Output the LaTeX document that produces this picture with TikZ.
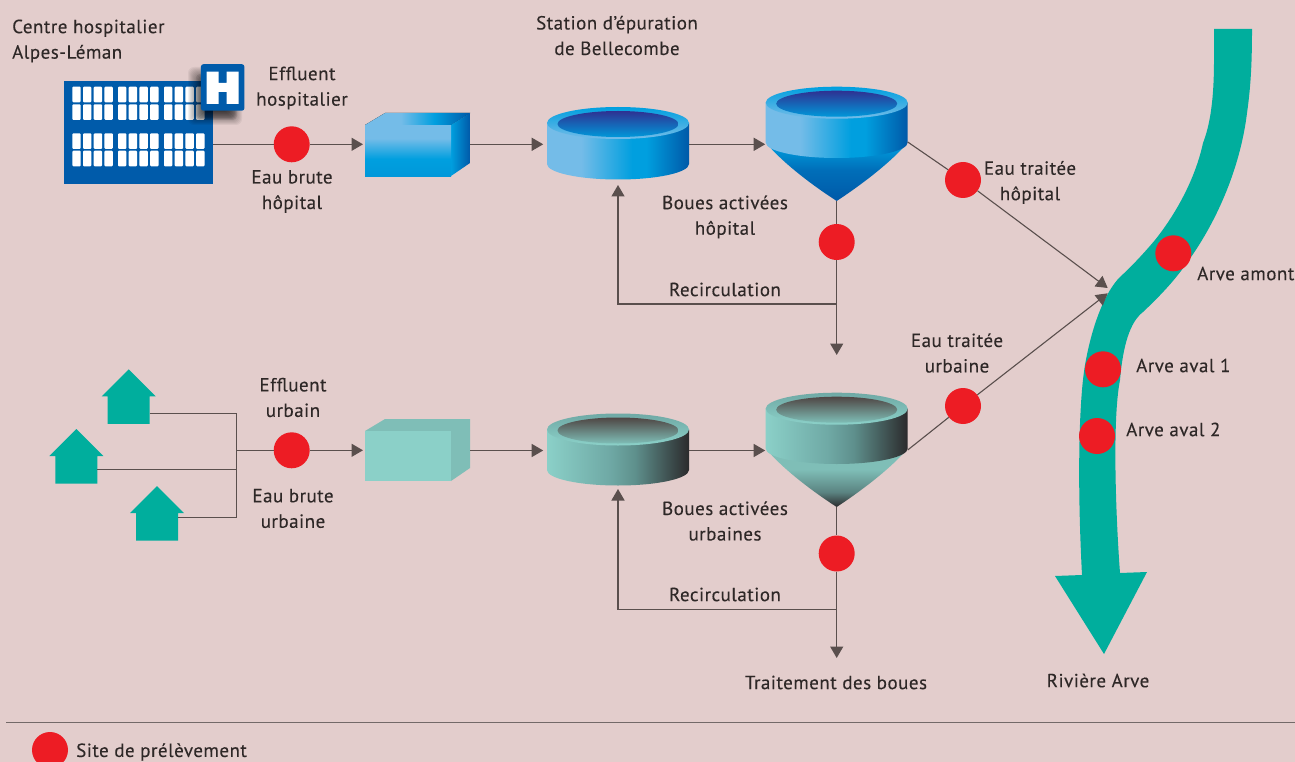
\documentclass[tikz,border=0pt]{standalone}
\usepackage{fontspec}
\setmainfont[LetterSpace=2.6,FakeBold=0.12]{PT Sans}
\usetikzlibrary{arrows.meta,calc}
\definecolor{bgc}{HTML}{E3CDCC}
\definecolor{riv}{HTML}{00AE9D}
\definecolor{redc}{HTML}{ED1C24}
\definecolor{linec}{HTML}{5A4F4D}
\definecolor{txtc}{HTML}{2E2827}
\definecolor{hblue}{HTML}{005BAA}
\definecolor{lb}{HTML}{74BCE8}
\definecolor{mb}{HTML}{009FDF}
\definecolor{db}{HTML}{0059A8}
\definecolor{ib}{HTML}{2E3192}
\definecolor{lt}{HTML}{8BD0C8}
\definecolor{mt}{HTML}{6FA9A5}
\definecolor{dt}{HTML}{2B2A2C}
\definecolor{st}{HTML}{7FBEB7}
\definecolor{it}{HTML}{4F4644}
% horizontal bodies
\pgfdeclarehorizontalshading{bodyB}{100bp}{color(0bp)=(lb);color(25bp)=(lb);color(37bp)=(lb);color(55bp)=(mb);color(60bp)=(mb);color(75bp)=(db);color(100bp)=(db)}
\pgfdeclarehorizontalshading{bodyT}{100bp}{color(0bp)=(lt);color(25bp)=(lt);color(47bp)=(mt);color(56bp)=(mt!85!black);color(75bp)=(dt);color(100bp)=(dt)}
% vertical: 0bp = bottom
\pgfdeclareverticalshading{rimB}{100bp}{color(0bp)=(lb);color(25bp)=(lb);color(75bp)=(mb);color(100bp)=(mb)}
\pgfdeclareverticalshading{rimT}{100bp}{color(0bp)=(lt);color(25bp)=(lt);color(75bp)=(mt);color(100bp)=(mt)}
\pgfdeclareverticalshading{innerB}{100bp}{color(0bp)=(mb);color(25bp)=(mb!90!db);color(75bp)=(ib);color(100bp)=(ib)}
\pgfdeclareverticalshading{innerT}{100bp}{color(0bp)=(lt);color(25bp)=(st);color(75bp)=(it);color(100bp)=(it)}
\pgfdeclareverticalshading{coneB}{100bp}{color(0bp)=(db);color(25bp)=(db);color(52bp)=(db!70!mb);color(75bp)=(mb);color(100bp)=(mb)}
\pgfdeclareverticalshading{coneT}{100bp}{color(0bp)=(dt);color(25bp)=(dt);color(38bp)=(mt!70!dt);color(58bp)=(st);color(75bp)=(st);color(100bp)=(st)}
\pgfdeclareverticalshading{frontB}{100bp}{color(0bp)=(mb);color(25bp)=(mb!90!db);color(42bp)=(mb);color(62bp)=(lb);color(75bp)=(lb);color(100bp)=(lb)}
\pgfdeclarehorizontalshading{sideB}{100bp}{color(0bp)=(mb);color(25bp)=(mb);color(75bp)=(db);color(100bp)=(db)}
\pgfdeclarehorizontalshading{topB}{100bp}{color(0bp)=(lb);color(25bp)=(lb);color(42bp)=(lb);color(58bp)=(mb);color(75bp)=(db);color(100bp)=(db)}
% macro: cx, top centre y, bottom edge y, suffix
\newcommand\tankbody[4]{%
  \shade[shading=body#4] (#1-71,#2) -- (#1-71,#3) arc[start angle=180,end angle=360,x radius=71pt,y radius=15.5pt] -- (#1+71,#2) -- cycle;
  \shade[shading=rim#4] (#1,#2) ellipse[x radius=71pt,y radius=16pt];
  \shade[shading=inner#4] (#1,#2+1) ellipse[x radius=60.5pt,y radius=13pt];
}
\newcommand\conepic[3]{% top y, tip y, suffix
  \shade[shading=cone#3] (767,#1) .. controls (785,#1+21) and (815,#2-14) .. (836.7,#2) .. controls (858,#2-14) and (888,#1+21) .. (906.5,#1) -- cycle;
}
\newcommand\housepic[4]{% name, apex x, apex y, line offset
  \fill[riv] (#2,#3) -- (#2+27,#3+27) -- (#2+21,#3+27) -- (#2+21,#3+54.5) -- (#2-21,#3+54.5) -- (#2-21,#3+27) -- (#2-27,#3+27) -- cycle;
  \coordinate (#1) at (#2+21,#3+#4);
}
\tikzset{
  sample/.style={circle,fill=redc,inner sep=0pt,minimum size=36pt},
  flow/.style={draw=linec,line width=1.4pt},
  arrowflow/.style={flow,-{Triangle[length=11.5pt,width=13pt]}},
  lbl/.style={text=txtc,font=\fontsize{19}{25.5}\selectfont,align=center,inner sep=0pt},
  lblL/.style={lbl,anchor=west,align=left},
}
\begin{document}
\begin{tikzpicture}[x=1pt,y=-1pt]
\useasboundingbox (0,0) rectangle (1295,762);
\fill[bgc] (0,0) rectangle (1295,762);

% river
\fill[riv] (1214,29) -- (1214,60) .. controls (1214,100) and (1210,125) .. (1203,143)
  .. controls (1195,180) and (1175,215) .. (1155,240)
  .. controls (1145,252) and (1132,266) .. (1120,277)
  .. controls (1105,292) and (1092,325) .. (1085,365)
  .. controls (1079,400) and (1077,480) .. (1082,575)
  -- (1055,576) -- (1104,654) -- (1147,572) -- (1120,573)
  .. controls (1116,520) and (1112,420) .. (1120,380)
  .. controls (1123,345) and (1130,322) .. (1143,312)
  .. controls (1160,296) and (1175,280) .. (1186,264)
  .. controls (1215,225) and (1240,170) .. (1247,113)
  .. controls (1251,85) and (1252,60) .. (1252,29) -- cycle;

% hospital
\node[fill=hblue,minimum width=149pt,minimum height=103pt,inner sep=0pt,anchor=north west] (hosp) at (64,81) {};
\foreach \gx in {72.3,118,164} \foreach \c in {0,1,2,3} \foreach \wy in {86.7,104.3,133.3,150.7}
  \fill[white,rounded corners=1pt] (\gx+\c*10.7,\wy) rectangle ++(8.4,15.6);
\foreach \i in {1,...,10}
  \fill[black,opacity=0.08,rounded corners=4pt] (195+\i,73+\i) rectangle (238-\i,121-\i);
\foreach \i in {1,...,8}
  \fill[black,opacity=0.05,rounded corners=6pt] (187+\i,66+\i) rectangle (243-\i,126-\i);
\node[fill=hblue,rounded corners=2.5pt,minimum width=43.5pt,minimum height=46.5pt,inner sep=0pt,anchor=north west] (badge) at (200.7,64) {};
\fill[white] (206.7,71.7) -- (218.7,71.7) -- (218.7,83) -- (226.7,83) -- (226.7,71.7) -- (238.7,71.7) -- (238.7,104) -- (226.7,104) -- (226.7,92) -- (218.7,92) -- (218.7,104) -- (206.7,104) -- cycle;

% boxes
\fill[shading=topB,shade] (365,125) -- (385,113) -- (470,113) -- (451,125) -- cycle;
\shade[shading=sideB] (451,125) -- (470,113) -- (470,163) -- (451,176) -- cycle;
\node[shade,shading=frontB,minimum width=86pt,minimum height=51pt,inner sep=0pt,anchor=north west] (box1) at (365,125) {};
\fill[st] (365,431) -- (385,419) -- (470,419) -- (470,468) -- (451,481) -- (451,431) -- cycle;
\node[fill=lt,minimum width=86pt,minimum height=50pt,inner sep=0pt,anchor=north west] (box2) at (365,431) {};
\coordinate (box1e) at (470,144.3);
\coordinate (box2e) at (470,450.5);

% tanks
\tankbody{618}{123}{164}{B}
\tankbody{618}{429.5}{470}{T}
\conepic{144}{201}{B}
\tankbody{836.7}{102.7}{142.5}{B}
\conepic{450}{507}{T}
\tankbody{836.7}{408.7}{448.5}{T}
\coordinate (t1w) at (546.7,144.3);
\coordinate (t1e) at (689,144.3);
\coordinate (t1s) at (618,180);
\coordinate (t2w) at (765.7,144.3);
\coordinate (t2e) at (907.7,142);
\coordinate (t2s) at (836.7,201);
\coordinate (t3w) at (546.7,450.5);
\coordinate (t3e) at (689,450.5);
\coordinate (t3s) at (618,486);
\coordinate (t4w) at (765.7,450.5);
\coordinate (t4e) at (907.7,450);
\coordinate (t4s) at (836.7,507);

% houses
\housepic{h1}{128.7}{369.3}{44.4}
\housepic{h2}{76.3}{429}{40.7}
\housepic{h3}{157}{486}{31.3}

% sampling sites
\node[sample] (s1) at (291.7,144.3) {};
\node[sample] (s2) at (836.7,242) {};
\node[sample] (s3) at (963,180) {};
\node[sample] (s4) at (291.7,450.3) {};
\node[sample] (s5) at (836.7,553.5) {};
\node[sample] (s6) at (963,406) {};
\node[sample] (s7) at (1173.3,253.3) {};
\node[sample] (s8) at (1103,369.3) {};
\node[sample] (s9) at (1097,436) {};
\node[sample] (legend) at (50,750) {};

% free ends
\coordinate (riverA) at (1107.7,288);
\coordinate (riverB) at (1107.7,293.3);
\coordinate (stub1) at (836.7,355);
\coordinate (stub2) at (836.7,658);
\coordinate (rec1) at (836.7,304);
\coordinate (rec1c) at (618,304);
\coordinate (rec2) at (836.7,609.3);
\coordinate (rec2c) at (618,609.3);
\coordinate (junc) at (236.7,450.3);
\coordinate (ruleA) at (6,722.7);
\coordinate (ruleB) at (1295,722.7);

% connectors
\draw[flow] (s1 -| hosp.east) -- (s1);
\draw[arrowflow,shorten >=2pt] (s1) -- (s1 -| box1.west);
\draw[arrowflow,shorten >=3.5pt] (box1e) -- (t1w);
\draw[arrowflow,shorten >=0.5pt] (t1e) -- (t2w);
\draw[flow] (t2s) -- (s2);
\draw[arrowflow] (s2) -- (stub1);
\draw[arrowflow,shorten >=5pt] (rec1) -- (rec1c) -- (t1s);
\draw[flow,line width=1.1pt] (t2e) -- (s3);
\draw[arrowflow,line width=1.1pt] (s3) -- (riverA);

\draw[flow] (h1) -- (h1 -| junc) -- (h3 -| junc) -- (h3);
\draw[flow] (h2) -- (h2 -| junc);
\draw[flow] (junc) -- (s4);
\draw[arrowflow,shorten >=2pt] (s4) -- (s4 -| box2.west);
\draw[arrowflow,shorten >=3.5pt] (box2e) -- (t3w);
\draw[arrowflow,shorten >=0.5pt] (t3e) -- (t4w);
\draw[flow] (t4s) -- (s5);
\draw[arrowflow] (s5) -- (stub2);
\draw[arrowflow,shorten >=3pt] (rec2) -- (rec2c) -- (t3s);
\draw[flow,line width=1.1pt] (t4e) -- (s6);
\draw[arrowflow,line width=1.1pt] (s6) -- (riverB);
\draw[draw=linec!85,line width=1.3pt] (ruleA) -- (ruleB);

% labels
\node[lblL] (l1) at (12,41) {Centre hospitalier\\Alpes-Léman};
\node[lbl] (l2) at (302,88) {Effluent\\hospitalier};
\node[lbl] (l3) at (292,191.5) {Eau brute\\hôpital};
\node[lbl] (l4) at (617,35.5) {Station d’épuration\\de Bellecombe};
\node[lbl] (l5) at (725,217) {Boues activées\\hôpital};
\node[lbl] (l6) at (725,289.5) {Recirculation};
\node[lbl] (l7) at (1030,182.5) {Eau traitée\\hôpital};
\node[lblL] (l8) at (1197,273.5) {Arve amont};
\node[lblL] (l9) at (1136,365.5) {Arve aval 1};
\node[lblL] (l10) at (1126,429.5) {Arve aval 2};
\node[lbl] (l11) at (957,353) {Eau traitée\\urbaine};
\node[lbl] (l12) at (293,397.5) {Effluent\\urbain};
\node[lbl] (l13) at (293,508.5) {Eau brute\\urbaine};
\node[lbl] (l14) at (725,521) {Boues activées\\urbaines};
\node[lbl] (l15) at (725,594.5) {Recirculation};
\node[lbl] (l16) at (836,682.5) {Traitement des boues};
\node[lbl] (l17) at (1098,680.5) {Rivière Arve};
\node[lblL] (l18) at (76,752) {Site de prélèvement};
\end{tikzpicture}
\end{document}
